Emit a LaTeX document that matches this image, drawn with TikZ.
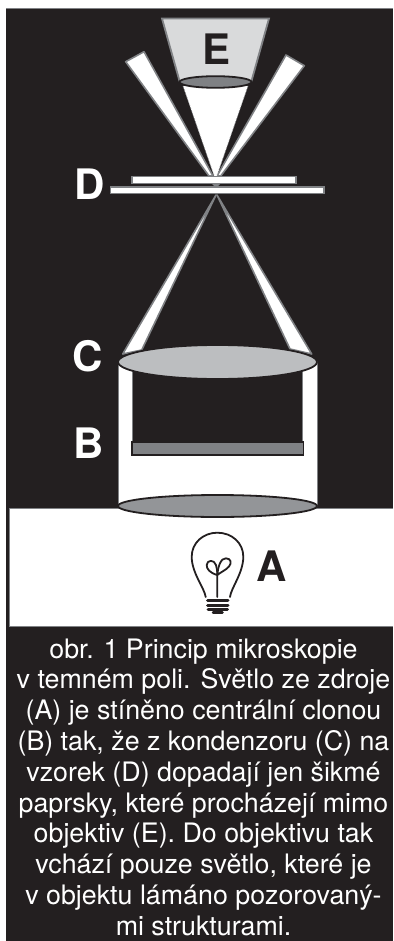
\documentclass[tikz,border=0pt]{standalone}
\usepackage{fontspec}
\setmainfont{TeX Gyre Heros}
\definecolor{ink}{HTML}{231F20}
\definecolor{edge}{HTML}{808285}
\definecolor{lensC}{HTML}{BCBEC0}
\definecolor{lensE}{HTML}{7F8184}
\definecolor{lensS}{HTML}{939598}
\definecolor{objfill}{HTML}{D9DADB}
\tikzset{
  beam/.style={fill=white,draw=edge,line width=1.6pt,line join=round},
  slide/.style={fill=white,draw=edge,line width=1.8pt},
  lens/.style={draw=ink,line width=1.8pt},
  letterw/.style={text=white,font=\fontsize{42}{42}\selectfont\bfseries,inner sep=0pt,anchor=base},
  letterk/.style={text=ink,font=\fontsize{42}{42}\selectfont\bfseries,inner sep=0pt,anchor=base},
  bulbline/.style={draw=ink,line width=1.8pt,line cap=round,line join=round}
}
\begin{document}
\begin{tikzpicture}[x=1pt,y=-1pt]
\useasboundingbox (0,0) rectangle (393,941);
\fill[white] (0,0) rectangle (393,941);
\fill[ink] (6,8) rectangle (393,941);
\draw[edge,line width=0.8pt] (6,8) -- (393,8);
% white lamp panel
\fill[white] (9,508) rectangle (393,626);
\draw[edge,line width=0.8pt] (9,626) -- (9,508) -- (393,508);
\draw[edge,line width=0.8pt] (9,626) -- (393,626);
% light column
\path[beam] (118.3,362) -- (132.3,362) -- (132.3,448) -- (302.3,448) -- (302.3,362) -- (317.3,362) -- (317.3,506) -- (118.3,506) -- cycle;
% lower oblique beams
\path[beam] (216,195) -- (122.7,354) -- (141.7,350) -- cycle;
\path[beam] (217,195) -- (311.7,354) -- (290,349) -- cycle;
% stop B
\path[draw=ink,fill=edge,line width=1.5pt] (132,442) rectangle (303.5,455);
% lenses
\path[lens,fill=lensC] (217.5,362) ellipse [x radius=99.5,y radius=17];
\path[lens,fill=lensS] (217.5,506) ellipse [x radius=99.5,y radius=11];
% upper beams
\path[beam] (209,176) -- (125.7,61.7) -- (144,51.7) -- (213,176) -- cycle;
\path[beam] (220.7,176) -- (304.3,65.7) -- (286,55) -- (217,176) -- cycle;
\fill[white] (183,86) -- (248,86) -- (216.5,177) -- (214.5,177) -- cycle;
\draw[edge,line width=0.7pt,densely dotted] (183,86) -- (214.5,177) (248,86) -- (216.5,177);
% slides
\fill[edge] (212,184) -- (220,184) -- (217,187) -- (215,187) -- cycle;
\path[slide] (132,176.5) rectangle (296,183.5);
\path[slide] (110.5,187) rectangle (324,193.5);
% objective E
\path[draw=edge,fill=objfill,line width=1.8pt,line join=miter] (162,18.5) -- (269,18.5) -- (251.5,81) -- (179.5,81) -- cycle;
\path[lens,fill=lensE] (215.5,82) ellipse [x radius=36,y radius=5.8];
% bulb
\draw[bulbline] (205.7,597) .. controls (204.5,588) and (191.7,573) .. (191.7,556.7)
  .. controls (191.7,543) and (203,532.7) .. (217.3,532.7)
  .. controls (232,532.7) and (243.3,543) .. (243.3,556.7)
  .. controls (243.3,573) and (231,588) .. (230,597);
\draw[bulbline] (217.3,597) -- (217.3,575)
  .. controls (210,573) and (206.5,569) .. (206.7,565)
  .. controls (207,560) and (214,559) .. (216,565)
  .. controls (216.8,568) and (217.3,571) .. (217.3,575);
\draw[bulbline] (217.3,575) .. controls (218,566) and (221,558) .. (226,558.3)
  .. controls (231,558.5) and (232,563) .. (229,566.5)
  .. controls (226,570) and (221,572) .. (217.3,575);
\draw[line width=3pt,ink,line cap=round] (207.5,600) -- (228,600) (207.5,605) -- (228,605) (208,609.8) -- (227.5,609.8);
\draw[line width=2.5pt,ink,line cap=round] (213,612.5) -- (222.5,612.5);
% letters
\node[letterk] (labelE) at (216.5,65) {E};
\node[letterw] (labelD) at (89.5,200) {D};
\node[letterw] (labelC) at (88,371) {C};
\node[letterw] (labelB) at (89,458) {B};
\node[letterk] (labelA) at (272,581.7) {A};
% caption
\node[text=white,align=center,inner sep=0pt,anchor=north,font=\fontsize{26.8}{30.8}\selectfont] (caption) at (203.5,638.4) {%
obr. 1 Princip mikroskopie\\
v temném poli. Světlo ze zdroje\\
(A) je stíněno centrální clonou\\
(B) tak, že z kondenzoru (C) na\\
vzorek (D) dopadají jen šikmé\\
paprsky, které procházejí mimo\\
objektiv (E). Do objektivu tak\\
vchází pouze světlo, které je\\
v objektu lámáno pozorovaný-\\
mi strukturami.};
\end{tikzpicture}
\end{document}
